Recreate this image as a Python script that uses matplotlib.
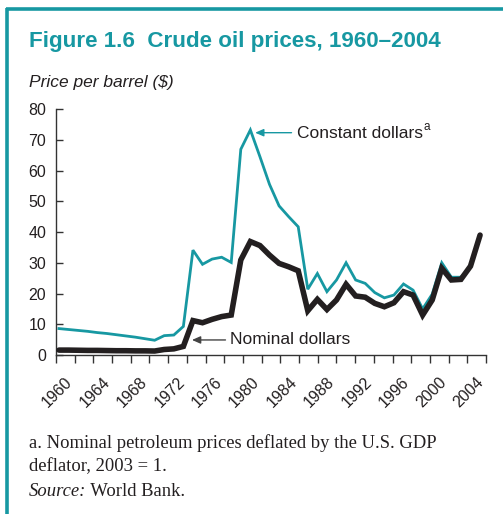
import numpy as np
import matplotlib
matplotlib.use("Agg")
import matplotlib.pyplot as plt
from matplotlib.lines import Line2D

# values ($ per barrel)
years = list(range(1960, 2005))
constant = [8.6, 8.3, 8.0, 7.7, 7.3, 7.0, 6.6, 6.2, 5.8, 5.3,
            4.8, 6.3, 6.5, 9.3, 34.1, 29.5, 31.2, 31.8, 30.1, 66.9,
            73.2, 64.5, 55.5, 48.5, 45.0, 41.7, 21.4, 26.5, 20.6, 24.4,
            30.0, 24.4, 23.3, 20.3, 18.6, 19.5, 23.1, 21.1, 15.0, 19.8,
            30.0, 25.3, 25.3, 28.7, 39.0]
nominal = [1.6, 1.6, 1.55, 1.5, 1.5, 1.45, 1.4, 1.4, 1.35, 1.35,
           1.3, 1.8, 2.0, 2.8, 11.2, 10.5, 11.6, 12.5, 13.0, 30.9,
           36.9, 35.6, 32.5, 29.8, 28.7, 27.4, 14.4, 18.1, 14.8, 17.9,
           23.0, 19.2, 18.8, 16.8, 15.7, 17.0, 20.6, 19.5, 13.0, 17.9,
           28.2, 24.4, 24.6, 28.9, 39.0]
year_labels = ["1960", "1964", "1968", "1972", "1976", "1980",
               "1984", "1988", "1992", "1996", "2000", "2004"]
yticks = [0, 10, 20, 30, 40, 50, 60, 70, 80]

teal = "#1798a2"
dark = "#231f20"

plt.rcParams["font.family"] = ["Liberation Sans", "DejaVu Sans"]

fig = plt.figure(figsize=(5.03, 5.14), dpi=100)
ax = fig.add_axes([0.1113, 0.3093, 0.8549, 0.4786])

ax.plot(years, constant, color=teal, lw=2.0, solid_joinstyle="miter", zorder=2)
ax.plot(years, nominal, color=dark, lw=4.0, solid_joinstyle="miter",
        solid_capstyle="round", zorder=3)

x0, x1 = 1959.69, 2004.62
ax.set_xlim(x0, x1)
ax.set_ylim(0, 80)

# the original's tick marks are spread evenly; labels sit on every other one,
# nudged a little to the left as in the printed figure
marks = np.linspace(x0, x1, 24)
ax.set_xticks(marks, minor=True)
ax.set_xticks(marks[1::2] - 1.04)
ax.set_xticklabels(year_labels, rotation=45, ha="right", rotation_mode="anchor",
                   fontsize=11.5, color=dark)
ax.tick_params(axis="x", which="minor", direction="out", length=6, width=1,
               color="#333333")
ax.tick_params(axis="x", which="major", length=0, pad=14)
ax.set_yticks(yticks)
ax.set_yticklabels([str(v) for v in yticks], fontsize=11.5, color=dark)
ax.tick_params(axis="y", direction="in", length=5, width=1, color="#333333", pad=7)

for s in ["top", "right"]:
    ax.spines[s].set_visible(False)
for s in ["left", "bottom"]:
    ax.spines[s].set_color("#333333")
    ax.spines[s].set_linewidth(1)

# annotations
const_txt = ax.text(1984.9, 72.2, "Constant dollars", fontsize=12.5, color=dark,
                    ha="left", va="center")
ax.annotate("a", xy=(1.0, 0.9), xycoords=const_txt, ha="left", va="center",
            fontsize=8.5, color=dark)
ax.annotate("", xy=(1980.5, 72.3), xytext=(1984.3, 72.3),
            arrowprops=dict(arrowstyle="-|>,head_length=0.5,head_width=0.22",
                            color=teal, lw=1.0, shrinkA=0, shrinkB=0))

ax.text(1977.9, 5.1, "Nominal dollars", fontsize=12.5, color=dark,
        ha="left", va="center")
ax.annotate("", xy=(1973.9, 4.9), xytext=(1977.4, 4.9),
            arrowprops=dict(arrowstyle="-|>,head_length=0.5,head_width=0.22",
                            color="#444444", lw=1.0, shrinkA=0, shrinkB=0))

# titles
fig.text(0.0577, 1 - 47 / 514, "Figure 1.6  Crude oil prices, 1960\u20132004",
         fontsize=16.1, fontweight="bold", color=teal, ha="left", va="baseline")
fig.text(0.0577, 1 - 87 / 514, "Price per barrel ($)", fontsize=12.5,
         style="italic", color=dark, ha="left", va="baseline")

# footnotes
serif = ["Liberation Serif", "DejaVu Serif"]
fig.text(0.0577, 1 - 443 / 514, "a. Nominal petroleum prices deflated by the U.S. GDP",
         family=serif, fontsize=13.4, color=dark, ha="left", va="center")
fig.text(0.0577, 1 - 467 / 514, "deflator, 2003 = 1.",
         family=serif, fontsize=13.4, color=dark, ha="left", va="center")
src = fig.text(0.0577, 1 - 492 / 514, "Source:", family=serif, style="italic",
               fontsize=13.4, color=dark, ha="left", va="center")
ax.annotate(" World Bank.", xy=(1.0, 0.5), xycoords=src, ha="left", va="center",
            family=serif, fontsize=13.4, color=dark, annotation_clip=False)

# teal frame along top and left
fig.add_artist(Line2D([0.013, 0.013], [0, 0.985], transform=fig.transFigure,
                      color=teal, lw=2.6, solid_capstyle="butt"))
fig.add_artist(Line2D([0.011, 1.0], [0.983, 0.983], transform=fig.transFigure,
                      color=teal, lw=2.6, solid_capstyle="butt"))

fig.savefig("out.png", dpi=100, facecolor="white")
